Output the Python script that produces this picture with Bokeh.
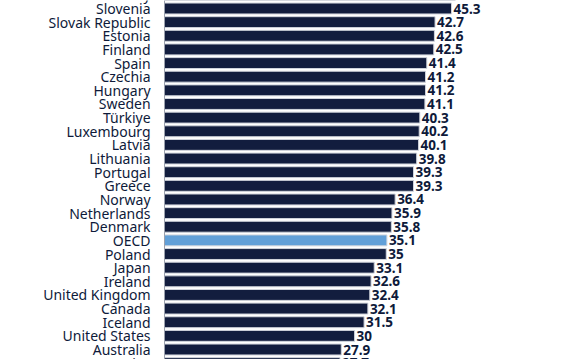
from bokeh.plotting import figure
from bokeh.models import ColumnDataSource, Range1d, Span
from bokeh.core.properties import value
from bokeh.embed import file_html
from bokeh.resources import INLINE

countries = ["Italy", "Slovenia", "Slovak Republic", "Estonia", "Finland", "Spain", "Czechia",
             "Hungary", "Sweden", "Türkiye", "Luxembourg", "Latvia", "Lithuania",
             "Portugal", "Greece", "Norway", "Netherlands", "Denmark", "OECD", "Poland",
             "Japan", "Ireland", "United Kingdom", "Canada", "Iceland", "United States",
             "Australia", "Costa Rica"]
values = [45.9, 45.3, 42.7, 42.6, 42.5, 41.4, 41.2, 41.2, 41.1, 40.3, 40.2, 40.1, 39.8,
          39.3, 39.3, 36.4, 35.9, 35.8, 35.1, 35.0, 33.1, 32.6, 32.4, 32.1, 31.5,
          30.0, 27.9, 27.7]

NAVY = "#121d3e"
LIGHT = "#62a0d8"

ypos = [i - 1 for i in range(len(countries))]
colors = [LIGHT if c == "OECD" else NAVY for c in countries]
labels = [("%g" % v) for v in values]

src = ColumnDataSource(dict(y=ypos, v=values, c=colors, name=countries, lab=labels,
                            zero=[0] * len(values)))

W, H = 575, 359
x0px, pxu = 164.0, 6.336
y0px, rowpx = 8.0, 13.64

p = figure(width=W, height=H, output_backend="svg", toolbar_location=None,
           x_range=Range1d(-x0px / pxu, (W - x0px) / pxu),
           y_range=Range1d((H - y0px) / rowpx, -y0px / rowpx),
           min_border=0, outline_line_color=None)
p.xaxis.visible = False
p.yaxis.visible = False
p.grid.visible = False
p.background_fill_color = "white"

p.hbar(y="y", left="zero", right="v", height=0.8, fill_color="c", line_color="#d0d4dc",
       line_width=1, source=src)

p.add_layout(Span(location=0, dimension="height", line_color="#9aa0ad", line_width=1))

p.text(x=-2.2, y="y", text="name", source=src, text_align="right", text_baseline="middle",
       text_font=value("Noto Sans"), text_font_size="14px", text_color="#0e1a3a")
p.text(x="v", y="y", text="lab", source=src, x_offset=2, text_align="left",
       text_baseline="middle", text_font=value("Noto Sans"), text_font_size="13.5px",
       text_font_style="bold", text_color="#0e1a3a")

open("out.html", "w").write(file_html(p, INLINE))
